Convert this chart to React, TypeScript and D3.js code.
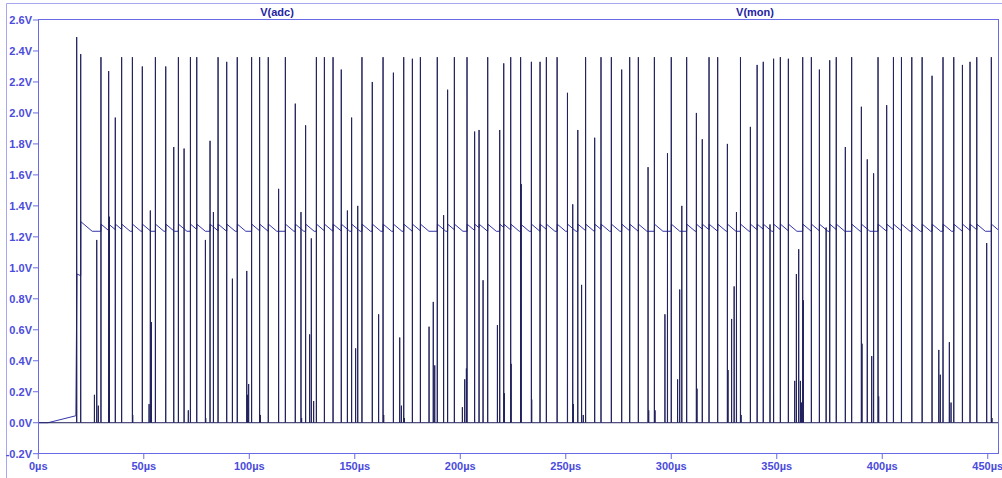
import React from "react";
import * as d3 from "d3";

// Transient simulation: V(mon) pulse train and V(adc) reference ripple.
const W = 1002;
const H = 478;

const timeDomain = [0, 455]; // µs
const voltDomain = [-0.2, 2.6]; // V

const xTickValues = [0, 50, 100, 150, 200, 250, 300, 350, 400, 450];
const yTickValues = [-0.2, 0, 0.2, 0.4, 0.6, 0.8, 1.0, 1.2, 1.4, 1.6, 1.8, 2.0, 2.2, 2.4, 2.6];

const traceNames = ["V(adc)", "V(mon)"];

// V(mon): pulse peaks [time µs, volts]
const monPulses: [number, number][] = [
  [18.2, 2.49], [20.1, 2.38], [26.6, 0.18], [27.7, 1.18], [28.45, 0.11], [29.7, 2.36], [33.35, 2.27], [33.7, 1.33],
  [36.5, 1.97], [39.5, 2.36], [44.6, 2.36], [44.75, 0.05], [49.3, 2.3], [52.5, 0.12], [53.1, 1.37], [53.6, 0.65],
  [55.5, 2.36], [60.4, 2.3], [64.2, 1.78], [66.4, 2.36], [69.1, 1.77], [71.1, 0.08], [72.1, 2.36], [75.1, 2.36],
  [79.2, 1.18], [79.35, 0.03], [81.4, 1.82], [83.0, 1.36], [85.2, 2.36], [89.3, 2.33], [92.0, 0.93], [94.3, 2.36],
  [98.8, 0.98], [99.1, 0.18], [99.7, 0.25], [101.1, 2.36], [104.9, 2.36], [105.25, 0.05], [109.0, 2.36],
  [113.9, 1.51], [117.1, 2.36], [121.8, 2.06], [124.5, 1.36], [124.8, 0.03], [126.7, 1.92], [128.6, 0.57],
  [129.4, 1.19], [130.5, 0.14], [131.8, 2.36], [135.6, 2.36], [139.7, 2.36], [143.6, 2.28], [146.5, 1.37],
  [148.5, 1.97], [150.4, 0.48], [151.4, 1.4], [153.4, 2.36], [158.3, 2.2], [161.3, 0.7], [163.4, 2.36],
  [163.7, 0.05], [168.3, 2.26], [171.3, 0.55], [172.1, 0.11], [173.2, 2.36], [173.5, 0.03], [177.3, 2.35],
  [181.1, 2.36], [185.2, 0.62], [187.2, 0.78], [187.9, 0.37], [189.1, 2.36], [192.1, 1.34], [194.0, 2.15],
  [197.2, 2.36], [201.0, 0.1], [202.1, 0.28], [202.9, 0.35], [203.2, 2.36], [206.8, 1.88], [208.9, 1.89],
  [210.8, 0.92], [213.0, 2.36], [217.6, 0.63], [218.7, 1.89], [220.6, 2.32], [220.9, 0.19], [223.9, 2.36],
  [224.1, 0.38], [228.6, 2.36], [228.9, 1.54], [233.7, 2.33], [233.85, 0.15], [237.8, 2.33], [240.8, 2.36],
  [245.9, 2.36], [250.8, 2.13], [253.3, 1.41], [253.6, 0.12], [255.7, 1.89], [257.5, 0.89], [258.3, 0.05],
  [259.4, 2.36], [263.7, 1.84], [266.7, 2.36], [271.6, 2.36], [276.5, 2.28], [280.3, 2.36], [284.4, 2.36],
  [289.0, 1.65], [289.3, 0.08], [292.0, 2.36], [292.3, 0.08], [297.0, 0.7], [298.2, 1.74], [300.0, 2.36],
  [303.0, 0.28], [304.0, 0.86], [305.0, 1.4], [307.3, 2.36], [311.9, 2.0], [312.2, 0.22], [314.7, 1.83],
  [317.9, 2.36], [322.0, 2.36], [326.6, 1.8], [326.9, 0.34], [328.6, 0.67], [329.8, 0.88], [330.9, 1.36],
  [332.8, 2.36], [333.1, 0.05], [337.5, 1.91], [340.7, 2.31], [343.6, 2.33], [346.8, 1.28], [348.5, 2.35],
  [351.7, 2.36], [355.5, 2.35], [358.5, 0.27], [359.3, 0.96], [360.4, 1.12], [361.2, 0.27], [361.7, 0.13],
  [362.3, 2.36], [362.6, 0.79], [366.4, 2.36], [370.2, 2.28], [373.4, 1.26], [375.1, 2.34], [378.2, 2.36],
  [382.5, 1.78], [385.5, 2.36], [390.1, 2.04], [390.4, 0.51], [392.9, 1.7], [395.0, 0.43], [395.9, 1.61],
  [398.0, 2.36], [398.3, 0.17], [402.1, 2.05], [405.3, 2.36], [409.1, 2.36], [414.0, 2.36], [418.9, 2.36],
  [423.6, 2.24], [426.8, 0.47], [427.5, 0.31], [428.8, 2.36], [431.8, 0.52], [432.6, 0.13], [433.9, 2.36],
  [438.0, 2.31], [441.6, 2.33], [444.8, 2.36], [449.5, 1.16], [451.7, 2.36], [452.0, 0.03],
];

// V(adc): start-up segment [time µs, volts]
const adcStartup: [number, number][] = [
  [0, 0], [4.6, 0], [17.8, 0.045], [18.3, 0.96], [20.0, 0.95],
];

// V(adc): recharge instants (µs) of the reference ripple
const adcRecharge: number[] = [
  20.1, 29.7, 33.35, 36.5, 39.5, 44.6, 49.3, 55.5, 60.4, 66.4, 72.1, 75.1, 81.4, 85.2, 89.3, 94.3, 101.1, 104.9,
  109.0, 117.1, 121.8, 126.7, 131.8, 135.6, 139.7, 143.6, 148.5, 153.4, 158.3, 163.4, 168.3, 173.2, 177.3, 181.1,
  189.1, 194.0, 197.2, 203.2, 206.8, 208.9, 213.0, 218.7, 220.6, 223.9, 228.6, 233.7, 237.8, 240.8, 245.9, 250.8,
  255.7, 259.4, 263.7, 266.7, 271.6, 276.5, 280.3, 284.4, 292.0, 300.0, 307.3, 311.9, 314.7, 317.9, 322.0, 326.6,
  332.8, 337.5, 340.7, 343.6, 348.5, 351.7, 355.5, 362.3, 366.4, 370.2, 375.1, 378.2, 385.5, 390.1, 398.0, 402.1,
  405.3, 409.1, 414.0, 418.9, 423.6, 428.8, 433.9, 438.0, 441.6, 444.8, 451.7,
];
const adcFirstPeak = 1.298; // V
const adcRipplePeak = 1.282; // V
const adcRippleFloor = 1.236; // V
const adcDroopRate = 0.0115; // V per µs

export default function App() {
  const x = d3.scaleLinear().domain(timeDomain).range([38.3, 998.3]);
  const y = d3.scaleLinear().domain(voltDomain).range([453.7, 20]);

  const line = d3
    .line<[number, number]>()
    .x((d) => x(d[0]))
    .y((d) => y(d[1]));

  // pulse train on a zero baseline
  const monPts: [number, number][] = [[0, 0]];
  const hw = 0.05;
  monPulses.forEach(([t, v]) => {
    monPts.push([t - hw, 0], [t, v], [t + hw, 0]);
  });
  monPts.push([timeDomain[1], 0]);

  // reference ripple: jump at each recharge, then droop to the floor
  const adcPts: [number, number][] = [...adcStartup];
  let level = adcStartup[adcStartup.length - 1][1];
  adcRecharge.forEach((t, i) => {
    const peak = i === 0 ? adcFirstPeak : adcRipplePeak;
    const next = i + 1 < adcRecharge.length ? adcRecharge[i + 1] : timeDomain[1];
    adcPts.push([t, level], [t + 0.05, peak]);
    const droopEnd = t + 0.05 + (peak - adcRippleFloor) / adcDroopRate;
    if (droopEnd < next) {
      adcPts.push([droopEnd, adcRippleFloor], [next, adcRippleFloor]);
      level = adcRippleFloor;
    } else {
      level = peak - (next - t - 0.05) * adcDroopRate;
      adcPts.push([next, level]);
    }
  });

  const axisColor = "#4b4bdc";
  const titleColor = "#2424a4";
  const font = "'Liberation Sans', Arial, sans-serif";

  const titleX = [277, 755];

  return (
    <svg
      width={W}
      height={H}
      style={{ position: "absolute", left: 0, top: 0, background: "#fff" }}
      fontFamily={font}
    >
      {/* window frame */}
      <line x1={6.5} y1={3.5} x2={W} y2={3.5} stroke="#a6a6f0" />
      <line x1={6.5} y1={3.5} x2={6.5} y2={H} stroke="#a6a6f0" />

      {/* trace titles */}
      {traceNames.map((n, i) => (
        <text
          key={n}
          x={titleX[i]}
          y={16}
          textAnchor="middle"
          fontSize={11}
          fontWeight="bold"
          fill={titleColor}
        >
          {n}
        </text>
      ))}

      <defs>
        <clipPath id="plotclip">
          <rect x={38.3} y={20} width={960} height={433.7} />
        </clipPath>
      </defs>

      {/* traces */}
      <g clipPath="url(#plotclip)">
        <path d={line(adcPts) ?? ""} fill="none" stroke="#3434a8" strokeWidth={1} />
        <path d={line(monPts) ?? ""} fill="none" stroke="#22225e" strokeWidth={1} />
      </g>

      {/* plot border */}
      <rect x={38.5} y={19.5} width={960} height={434} fill="none" stroke="#6a6ae6" />

      {/* y axis */}
      {yTickValues.map((v) => (
        <g key={v}>
          <line x1={33} x2={38.5} y1={y(v)} y2={y(v)} stroke="#6a6ae6" />
          <text
            x={32}
            y={y(v)}
            dy="0.36em"
            textAnchor="end"
            fontSize={11}
            fontWeight="bold"
            fill={axisColor}
          >
            {`${v.toFixed(1)}V`}
          </text>
        </g>
      ))}

      {/* x axis */}
      {xTickValues.map((t) => (
        <g key={t}>
          <line x1={x(t)} x2={x(t)} y1={453.5} y2={459} stroke="#6a6ae6" />
          <text
            x={x(t)}
            y={470}
            textAnchor="middle"
            fontSize={11}
            fontWeight="bold"
            fill={axisColor}
          >
            {`${t}µs`}
          </text>
        </g>
      ))}
    </svg>
  );
}
